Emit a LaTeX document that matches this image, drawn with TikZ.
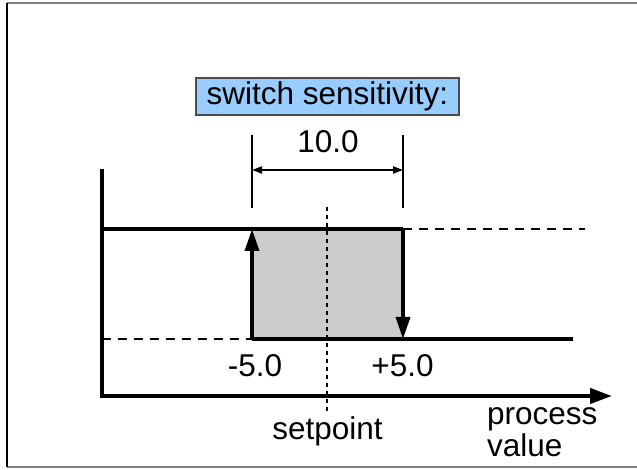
\documentclass[tikz,border=0pt]{standalone}
\usepackage{fontspec}
\setmainfont{Liberation Sans}
\usetikzlibrary{arrows.meta}
\definecolor{boxblue}{HTML}{99CCFF}
\definecolor{hystgray}{HTML}{CCCCCC}
\begin{document}
\begin{tikzpicture}[x=1pt,y=1pt,
    every node/.style={font=\fontsize{31.5}{32}\selectfont},
    heavy/.style={line width=3.5pt},
    guide/.style={line width=1.2pt,dash pattern=on 9pt off 7pt},
    bigtip/.style={-{Triangle[length=22pt,width=14pt]}}]
    \useasboundingbox (0,0) rectangle (637,470);
    % frame
    \draw[gray,line width=2pt] (7,467) -- (637,467);
    \draw[gray,line width=1.2pt] (7,3) -- (637,3);
    \draw[line width=1.2pt] (7,467) -- (7,3);
    % corner points of the hysteresis loop
    \coordinate (ytop) at (102,299);
    \coordinate (o) at (102,74);
    \coordinate (xend) at (612,74);
    \coordinate (hs) at (102,241);
    \coordinate (ls) at (102,131);
    \coordinate (on) at (252,131);
    \coordinate (onup) at (252,241);
    \coordinate (off) at (403,241);
    \coordinate (offdn) at (403,131);
    \coordinate (hend) at (585,241);
    \coordinate (lend) at (573,131);
    \coordinate (sptop) at (327,263);
    \fill[hystgray] (on) rectangle (off);
    % setpoint
    \node[inner xsep=3pt,inner ysep=2pt,anchor=base] (sp) at (327.5,30) {setpoint};
    \draw[line width=1.6pt,dash pattern=on 4pt off 4pt] (sptop) -- (sptop |- sp.north);
    % axes
    \draw[line width=4pt,line cap=rect] (ytop) -- (o);
    \draw[line width=4pt,-{Triangle[length=22pt,width=15pt]}] (o) -- (xend);
    % hysteresis
    \draw[guide] (ls) -- (on);
    \draw[guide] (off) -- (hend);
    \draw[heavy] (hs) -- (off);
    \draw[heavy] (on) -- (lend);
    \draw[heavy,bigtip] (on) -- (onup);
    \draw[heavy,bigtip] (off) -- (offdn);
    % sensitivity
    \foreach \x in {252,403}
        \draw[line width=2pt] (\x,335) -- (\x,262);
    \coordinate (dl) at (252,300);
    \coordinate (dr) at (403,300);
    \draw[line width=2pt,{Triangle[length=10pt,width=7pt]}-{Triangle[length=10pt,width=7pt]}] (dl) -- (dr);
    \node[anchor=base] (width) at (328,317) {10.0};
    \node[draw=black!70,line width=1.2pt,fill=boxblue,minimum width=263pt,minimum height=37pt,inner sep=0pt] (sens) at (327.5,373.5) {switch sensitivity:};
    \node[anchor=base] (lo) at (255,93) {-5.0};
    \node[anchor=base] (hi) at (402.5,93) {+5.0};
    \node[anchor=base west,align=left,inner sep=0pt] (pv) at (487,13) {process\\value};
\end{tikzpicture}
\end{document}
